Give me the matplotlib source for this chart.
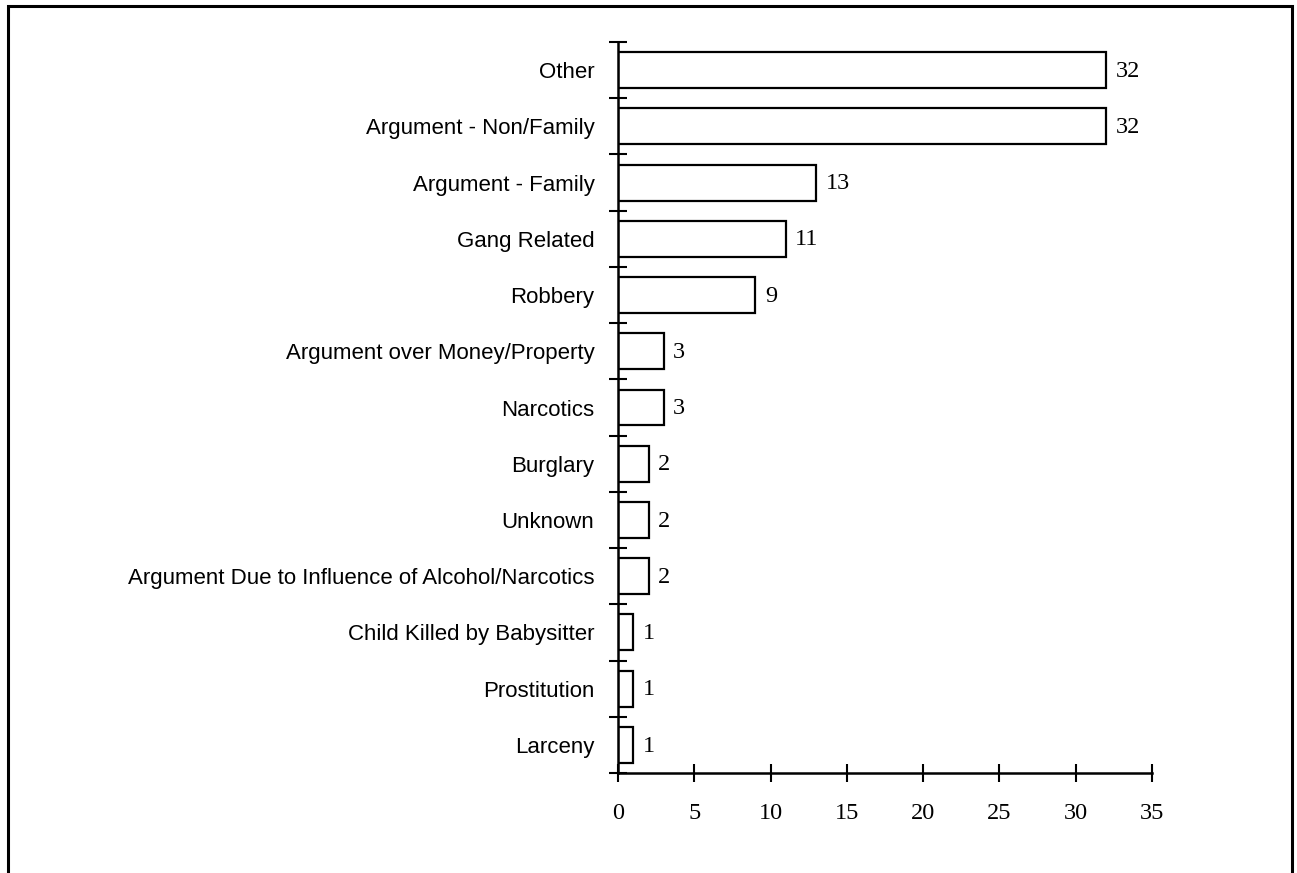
import matplotlib.pyplot as plt
import numpy as np
from matplotlib.patches import Rectangle

categories = ["Other", "Argument - Non/Family", "Argument - Family", "Gang Related",
              "Robbery", "Argument over Money/Property", "Narcotics", "Burglary",
              "Unknown", "Argument Due to Influence of Alcohol/Narcotics",
              "Child Killed by Babysitter", "Prostitution", "Larceny"]
counts = [32, 32, 13, 11, 9, 3, 3, 2, 2, 2, 1, 1, 1]
xticks = [0, 5, 10, 15, 20, 25, 30, 35]

fig = plt.figure(figsize=(12.97, 8.73), dpi=100)
ax = fig.add_axes([618 / 1297, 1 - 773 / 873, (1152 - 618) / 1297, (773 - 42) / 873])

n = len(categories)
ypos = np.arange(n)
ax.barh(ypos, counts, height=0.64, color="white", edgecolor="black", linewidth=1.6)

for y, v in zip(ypos, counts):
    ax.text(v + 0.62, y + 0.02, str(v), va="center", ha="left",
            family="Liberation Serif", fontsize=17.5)

ax.set_xlim(0, 35)
ax.set_ylim(n - 0.5, -0.5)

ax.set_yticks(ypos)
ax.set_yticklabels(categories, family="Liberation Sans", fontsize=16)
ax.set_yticks(np.arange(n + 1) - 0.5, minor=True)
ax.tick_params(axis="y", which="major", length=0, pad=17)
ax.tick_params(axis="y", which="minor", direction="inout", length=13, width=1.5)

ax.set_xticks(xticks)
ax.set_xticklabels([str(t) for t in xticks], family="Liberation Serif", fontsize=17.5)
ax.tick_params(axis="x", direction="inout", length=13, width=1.5, pad=15)

for side in ["top", "right"]:
    ax.spines[side].set_visible(False)
for side in ["left", "bottom"]:
    ax.spines[side].set_linewidth(1.8)

# outer frame, bottom edge runs off the image
frame = Rectangle((8 / 1297, -0.05), (1292 - 8) / 1297, 1.05 - 6 / 873,
                  transform=fig.transFigure, fill=False, edgecolor="black",
                  linewidth=2.2, clip_on=False)
fig.patches.append(frame)

fig.savefig("out.png", dpi=100)
